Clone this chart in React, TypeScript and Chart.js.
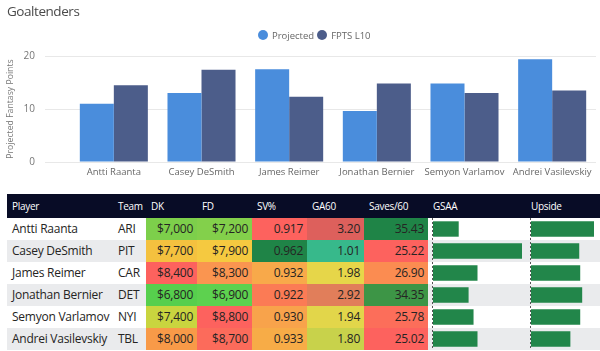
import React, { useEffect, useRef } from "react";
import { Chart, registerables } from "chart.js";

Chart.register(...registerables);

// ---------- data ----------
const players = [
  "Antti Raanta",
  "Casey DeSmith",
  "James Reimer",
  "Jonathan Bernier",
  "Semyon Varlamov",
  "Andrei Vasilevskiy",
];
const teams = ["ARI", "PIT", "CAR", "DET", "NYI", "TBL"];
const projected = [11.0, 13.0, 17.5, 9.6, 14.8, 19.4];
const fptsL10 = [14.5, 17.4, 12.3, 14.8, 13.0, 13.5];
const yTickValues = [0, 10, 20];
const dk = [7000, 7700, 8400, 6800, 7400, 8000];
const fd = [7200, 7900, 8300, 6900, 8800, 8700];
const svPct = [0.917, 0.962, 0.932, 0.922, 0.93, 0.933];
const ga60 = [3.2, 1.01, 1.98, 2.92, 1.94, 1.8];
const saves60 = [35.43, 25.22, 26.9, 34.35, 25.78, 25.02];
const gsaa = [2.6, 9.0, 4.5, 3.6, 4.1, 4.5];
const upside = [32, 24.5, 25, 26, 25, 20];
const headers = ["Player", "Team", "DK", "FD", "SV%", "GA60", "Saves/60", "GSAA", "Upside"];

// ---------- styles ----------
const FONT = "'Segoe UI', 'Open Sans', sans-serif";
const dkColors = ["#7DCF4B", "#F4C13F", "#FD625E", "#56CF4D", "#C9D53F", "#F89A48"];
const fdColors = ["#83D04B", "#F5C940", "#FA9550", "#5DD14F", "#FD625E", "#FC6B5B"];
const svColors = ["#FD625E", "#1F8447", "#F8A94A", "#FB7B55", "#F8A34B", "#F7AC47"];
const gaColors = ["#DD605C", "#37B98B", "#E6D649", "#E17E5A", "#E2D64A", "#C8D24B"];
const saveColors = ["#1F8447", "#FD625E", "#FB8C51", "#3D9546", "#FC6E5A", "#FD625E"];

const cols = [
  { left: 7, width: 106 },
  { left: 113, width: 33 },
  { left: 146, width: 51 },
  { left: 197, width: 55 },
  { left: 252, width: 55 },
  { left: 307, width: 57 },
  { left: 364, width: 64 },
  { left: 428, width: 98 },
  { left: 526, width: 74 },
];
const HEADER_TOP = 194;
const HEADER_H = 24;
const ROW_H = 22;
const ROWS_TOP = HEADER_TOP + HEADER_H;

const money = (v: number) => "$" + v.toLocaleString("en-US");

function makeDataBar(canvas: HTMLCanvasElement, values: number[]) {
  return new Chart(canvas, {
    type: "bar",
    data: {
      labels: players,
      datasets: [
        {
          data: values,
          backgroundColor: "#22864A",
          barPercentage: 0.7,
          categoryPercentage: 1,
        },
      ],
    },
    options: {
      indexAxis: "y",
      animation: false,
      responsive: false,
      layout: { padding: 0 },
      plugins: { legend: { display: false }, tooltip: { enabled: false } },
      scales: {
        x: { display: false, min: 0, max: Math.max(...values) },
        y: { display: false },
      },
    },
  });
}

export default function App() {
  const chartRef = useRef<HTMLCanvasElement>(null);
  const gsaaRef = useRef<HTMLCanvasElement>(null);
  const upRef = useRef<HTMLCanvasElement>(null);

  useEffect(() => {
    const main = new Chart(chartRef.current!, {
      type: "bar",
      data: {
        labels: players,
        datasets: [
          { label: "Projected", data: projected, backgroundColor: "#4A8DDC" },
          { label: "FPTS L10", data: fptsL10, backgroundColor: "#4C5D8A" },
        ],
      },
      options: {
        animation: false,
        responsive: false,
        layout: { padding: { top: 56, right: 4, bottom: 0, left: 0 } },
        datasets: { bar: { categoryPercentage: 0.776, barPercentage: 1 } },
        plugins: {
          legend: { display: false },
          title: { display: false },
          tooltip: { enabled: false },
        },
        scales: {
          x: {
            grid: { display: false, drawTicks: false },
            border: { display: false },
            ticks: {
              color: "#666666",
              font: { family: FONT, size: 9.5 },
              padding: 5,
              maxRotation: 0,
              autoSkip: false,
            },
            afterFit: (s: any) => {
              s.height = 23;
            },
          },
          y: {
            min: 0,
            max: 20,
            afterBuildTicks: (s: any) => {
              s.ticks = yTickValues.map((v) => ({ value: v }));
            },
            ticks: { color: "#777777", font: { family: FONT, size: 10 }, padding: 10 },
            grid: { color: "#E8E8E8", tickColor: "#E8E8E8", tickLength: 25 },
            border: { display: false },
            title: {
              display: true,
              text: "Projected Fantasy Points",
              color: "#777777",
              font: { family: FONT, size: 8.7 },
              padding: { top: 5, bottom: 0 },
            },
            afterFit: (s: any) => {
              s.width = 70;
            },
          },
        },
      },
    } as any);
    const b1 = makeDataBar(gsaaRef.current!, gsaa);
    const b2 = makeDataBar(upRef.current!, upside);
    return () => {
      main.destroy();
      b1.destroy();
      b2.destroy();
    };
  }, []);

  const cellText = (
    text: string,
    col: number,
    row: number,
    align: "left" | "right",
    bg?: string
  ) => (
    <div
      key={`c${row}-${col}`}
      style={{
        position: "absolute",
        left: cols[col].left,
        top: ROWS_TOP + row * ROW_H,
        width: cols[col].width,
        height: ROW_H,
        lineHeight: ROW_H + "px",
        background: bg,
        boxSizing: "border-box",
        paddingLeft: align === "left" ? 5 : 0,
        paddingRight: align === "right" ? 4 : 0,
        textAlign: align,
        fontSize: 12,
        letterSpacing: "-0.25px",
        color: "#252423",
        whiteSpace: "nowrap",
        overflow: "hidden",
      }}
    >
      {text}
    </div>
  );

  return (
    <div
      style={{
        position: "fixed",
        left: 0,
        top: 0,
        width: 600,
        height: 351,
        background: "#ffffff",
        fontFamily: FONT,
        overflow: "hidden",
      }}
    >
      <canvas
        ref={chartRef}
        width={600}
        height={185}
        style={{ position: "absolute", left: 0, top: 0, width: 600, height: 185 }}
      />
      <div
        style={{
          position: "absolute",
          left: 7,
          top: 1,
          fontSize: 13.5,
          letterSpacing: "-0.45px",
          color: "#4A4A4A",
          lineHeight: "20px",
        }}
      >
        Goaltenders
      </div>
      {/* legend */}
      <div
        style={{
          position: "absolute",
          left: 258,
          top: 28,
          height: 14,
          display: "flex",
          alignItems: "center",
          fontSize: 9.5,
          color: "#666666",
          whiteSpace: "nowrap",
        }}
      >
        <span
          style={{ width: 10, height: 10, borderRadius: 5, background: "#4A8DDC", marginRight: 4 }}
        />
        <span style={{ marginRight: 3 }}>Projected</span>
        <span
          style={{ width: 10, height: 10, borderRadius: 5, background: "#4C5D8A", marginRight: 4 }}
        />
        <span>FPTS L10</span>
      </div>

      {/* table header */}
      <div
        style={{
          position: "absolute",
          left: 7,
          top: HEADER_TOP,
          width: 593,
          height: HEADER_H,
          background: "#080C26",
        }}
      />
      {headers.map((h, i) => (
        <div
          key={h}
          style={{
            position: "absolute",
            left: cols[i].left + 5,
            top: HEADER_TOP,
            height: HEADER_H,
            lineHeight: HEADER_H + "px",
            fontSize: 10,
            letterSpacing: "-0.3px",
            color: "#ffffff",
            whiteSpace: "nowrap",
          }}
        >
          {h}
        </div>
      ))}

      {/* row backgrounds */}
      {players.map((_, r) => (
        <div
          key={`bg${r}`}
          style={{
            position: "absolute",
            left: 7,
            top: ROWS_TOP + r * ROW_H,
            width: 593,
            height: ROW_H,
            background: r % 2 === 0 ? "#FFFFFF" : "#EAEBED",
          }}
        />
      ))}

      {players.map((p, r) => [
        cellText(p, 0, r, "left"),
        cellText(teams[r], 1, r, "left"),
        cellText(money(dk[r]), 2, r, "right", dkColors[r]),
        cellText(money(fd[r]), 3, r, "right", fdColors[r]),
        cellText(svPct[r].toFixed(3), 4, r, "right", svColors[r]),
        cellText(ga60[r].toFixed(2), 5, r, "right", gaColors[r]),
        cellText(saves60[r].toFixed(2), 6, r, "right", saveColors[r]),
      ])}

      {/* data bar axes */}
      {[432, 530].map((x) => (
        <div
          key={`ax${x}`}
          style={{
            position: "absolute",
            left: x,
            top: ROWS_TOP,
            width: 1,
            height: ROW_H * players.length,
            background:
              "repeating-linear-gradient(to bottom, #555 0px, #555 2px, transparent 2px, transparent 4px)",
          }}
        />
      ))}
      <canvas
        ref={gsaaRef}
        width={89}
        height={ROW_H * players.length}
        style={{ position: "absolute", left: 433, top: ROWS_TOP, width: 89, height: ROW_H * players.length }}
      />
      <canvas
        ref={upRef}
        width={63}
        height={ROW_H * players.length}
        style={{ position: "absolute", left: 531, top: ROWS_TOP, width: 63, height: ROW_H * players.length }}
      />
    </div>
  );
}
